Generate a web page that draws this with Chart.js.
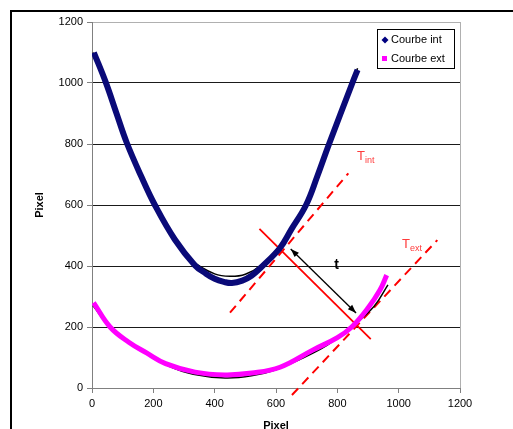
<!DOCTYPE html>
<html>
<head>
<meta charset="utf-8">
<script src="https://cdn.jsdelivr.net/npm/chart.js@4"></script>
<style>
  html, body { margin: 0; padding: 0; background: #fff; }
  #wrap { position: relative; width: 513px; height: 429px; }
</style>
</head>
<body>
<div id="wrap"><canvas id="grafik" width="513" height="429"></canvas></div>
<script>
// ===== data =====
const intX = [6, 45, 80, 113, 160, 205, 270, 336, 370, 400, 430, 456, 490, 520, 554, 613, 650, 698, 735, 773, 849, 866];
const intY = [1100, 1002, 900, 805, 695, 600, 487, 402, 376, 358, 348, 344, 352, 368, 398, 459, 520, 600, 695, 800, 1000, 1043];
const intFitX = [3, 45, 113, 205, 270, 330, 400, 450, 500, 554, 613, 698, 773, 849, 866];
const intFitY = [1100, 1000, 800, 600, 490, 415, 374, 366, 373, 405, 468, 605, 800, 1000, 1048];

const extX = [5, 59, 120, 178, 240, 336, 434, 521, 613, 721, 800, 847, 900, 939, 961];
const extY = [280, 200, 150, 115, 80, 52, 43, 49, 68, 125, 165, 200, 262, 321, 370];
const extFitX = [3, 59, 120, 180, 250, 330, 434, 520, 600, 680, 766, 847, 920, 965];
const extFitY = [270, 200, 150, 112, 72, 45, 33, 40, 60, 95, 140, 200, 268, 338];

// tangents, normal and thickness arrow
const tIntX = [450, 836], tIntY = [247, 704];
const tExtX = [652, 1126], tExtY = [-23, 485];
const normX = [546, 909], normY = [522, 160];
const arrowX = [648, 861], arrowY = [456, 246];

const xTicks = [0, 200, 400, 600, 800, 1000, 1200];
const yTicks = [0, 200, 400, 600, 800, 1000, 1200];

const pts = (xs, ys) => xs.map((x, i) => ({ x, y: ys[i] }));
const FONT = '"Liberation Sans", Arial, sans-serif';

// ===== extra drawing: frame, legend, labels, arrow =====
const decor = {
  id: 'decor',
  beforeDraw(chart) {
    const c = chart.ctx;
    c.save();
    c.strokeStyle = '#000'; c.lineWidth = 2;
    c.beginPath(); c.moveTo(11, 429); c.lineTo(11, 11); c.lineTo(513, 11); c.stroke();
    c.restore();
  },
  afterDraw(chart) {
    const c = chart.ctx, xs = chart.scales.x, ys = chart.scales.y;
    const px = v => xs.getPixelForValue(v), py = v => ys.getPixelForValue(v);
    c.save();

    // arrow
    const x1 = px(arrowX[0]), y1 = py(arrowY[0]), x2 = px(arrowX[1]), y2 = py(arrowY[1]);
    c.strokeStyle = '#000'; c.fillStyle = '#000'; c.lineWidth = 1.3;
    c.beginPath(); c.moveTo(x1, y1); c.lineTo(x2, y2); c.stroke();
    const head = (ax, ay, bx, by) => {
      const a = Math.atan2(ay - by, ax - bx);
      c.beginPath();
      c.moveTo(ax, ay);
      c.lineTo(ax - 9 * Math.cos(a - 0.35), ay - 9 * Math.sin(a - 0.35));
      c.lineTo(ax - 9 * Math.cos(a + 0.35), ay - 9 * Math.sin(a + 0.35));
      c.closePath(); c.fill();
    };
    head(x1, y1, x2, y2); head(x2, y2, x1, y1);

    // labels
    c.fillStyle = '#000'; c.font = 'bold 14px ' + FONT; c.textBaseline = 'middle'; c.textAlign = 'left';
    c.fillText('t', px(790), py(403));
    c.fillStyle = '#ff3b3b'; c.textBaseline = 'alphabetic';
    c.font = '13px ' + FONT; c.fillText('T', 357, 160);
    c.font = '9px ' + FONT; c.fillText('int', 365, 163);
    c.font = '13px ' + FONT; c.fillText('T', 402, 248);
    c.font = '9px ' + FONT; c.fillText('ext', 410, 251);

    // axis titles
    c.fillStyle = '#000'; c.font = 'bold 11px ' + FONT; c.textAlign = 'center';
    c.textBaseline = 'top'; c.fillText('Pixel', 276, 420);
    c.save(); c.translate(40, 205); c.rotate(-Math.PI / 2); c.textBaseline = 'middle';
    c.fillText('Pixel', 0, 0); c.restore();

    // legend
    c.fillStyle = '#fff'; c.fillRect(377, 29, 78, 40);
    c.strokeStyle = '#000'; c.lineWidth = 1; c.strokeRect(377.5, 29.5, 77, 39);
    c.fillStyle = '#000080';
    c.beginPath(); c.moveTo(385, 36.5); c.lineTo(388.5, 40); c.lineTo(385, 43.5); c.lineTo(381.5, 40); c.closePath(); c.fill();
    c.fillStyle = '#ff00ff'; c.fillRect(382, 56, 5, 5);
    c.fillStyle = '#000'; c.font = '11px ' + FONT; c.textAlign = 'left'; c.textBaseline = 'middle';
    c.fillText('Courbe int', 391, 40);
    c.fillText('Courbe ext', 391, 58.5);
    c.restore();
  }
};

const line = (data, color, width, extra) => Object.assign({
  data, borderColor: color, backgroundColor: color, borderWidth: width,
  showLine: true, pointRadius: 0, fill: false
}, extra || {});

const ctx = document.getElementById('grafik').getContext('2d');
const chart = new Chart(ctx, {
  type: 'scatter',
  data: {
    datasets: [
      line(pts(intX, intY), '#0a0a78', 6, { label: 'Courbe int', tension: 0.4 }),
      line(pts(extX, extY), '#ff00ff', 5, { label: 'Courbe ext', tension: 0.4 }),
      line(pts(intFitX, intFitY), '#000', 1.5, { tension: 0.4 }),
      line(pts(extFitX, extFitY), '#000', 1.5, { tension: 0.4 }),
      line(pts(tIntX, tIntY), '#ff0000', 2, { borderDash: [9, 6] }),
      line(pts(tExtX, tExtY), '#ff0000', 2, { borderDash: [9, 6], clip: false }),
      line(pts(normX, normY), '#ff0000', 1.8)
    ]
  },
  options: {
    responsive: false,
    animation: false,
    layout: { padding: { left: 0, top: 22, right: 53, bottom: 0 } },
    plugins: { legend: { display: false }, tooltip: { enabled: false } },
    scales: {
      x: {
        type: 'linear', min: 0, max: 1200,
        afterFit: s => { s.height = 41; },
        afterBuildTicks: s => { s.ticks = xTicks.map(v => ({ value: v })); },
        border: { color: '#808080', width: 1 },
        grid: {
          color: c => (c.tick && c.tick.value === 1200) ? '#b0b0b0' : 'rgba(0,0,0,0)',
          tickColor: '#808080', tickLength: 5
        },
        ticks: { color: '#000', font: { family: FONT, size: 11 }, padding: 4, maxRotation: 0, callback: v => String(v) }
      },
      y: {
        type: 'linear', min: 0, max: 1200,
        afterFit: s => { s.width = 92; },
        afterBuildTicks: s => { s.ticks = yTicks.map(v => ({ value: v })); },
        border: { color: '#808080', width: 1 },
        grid: {
          color: c => (c.tick && c.tick.value === 1200) ? '#b0b0b0' : '#1a1a1a',
          tickColor: '#808080', tickLength: 5
        },
        ticks: { color: '#000', font: { family: FONT, size: 11 }, padding: 4, callback: v => String(v) }
      }
    }
  },
  plugins: [decor]
});
</script>
</body>
</html>
